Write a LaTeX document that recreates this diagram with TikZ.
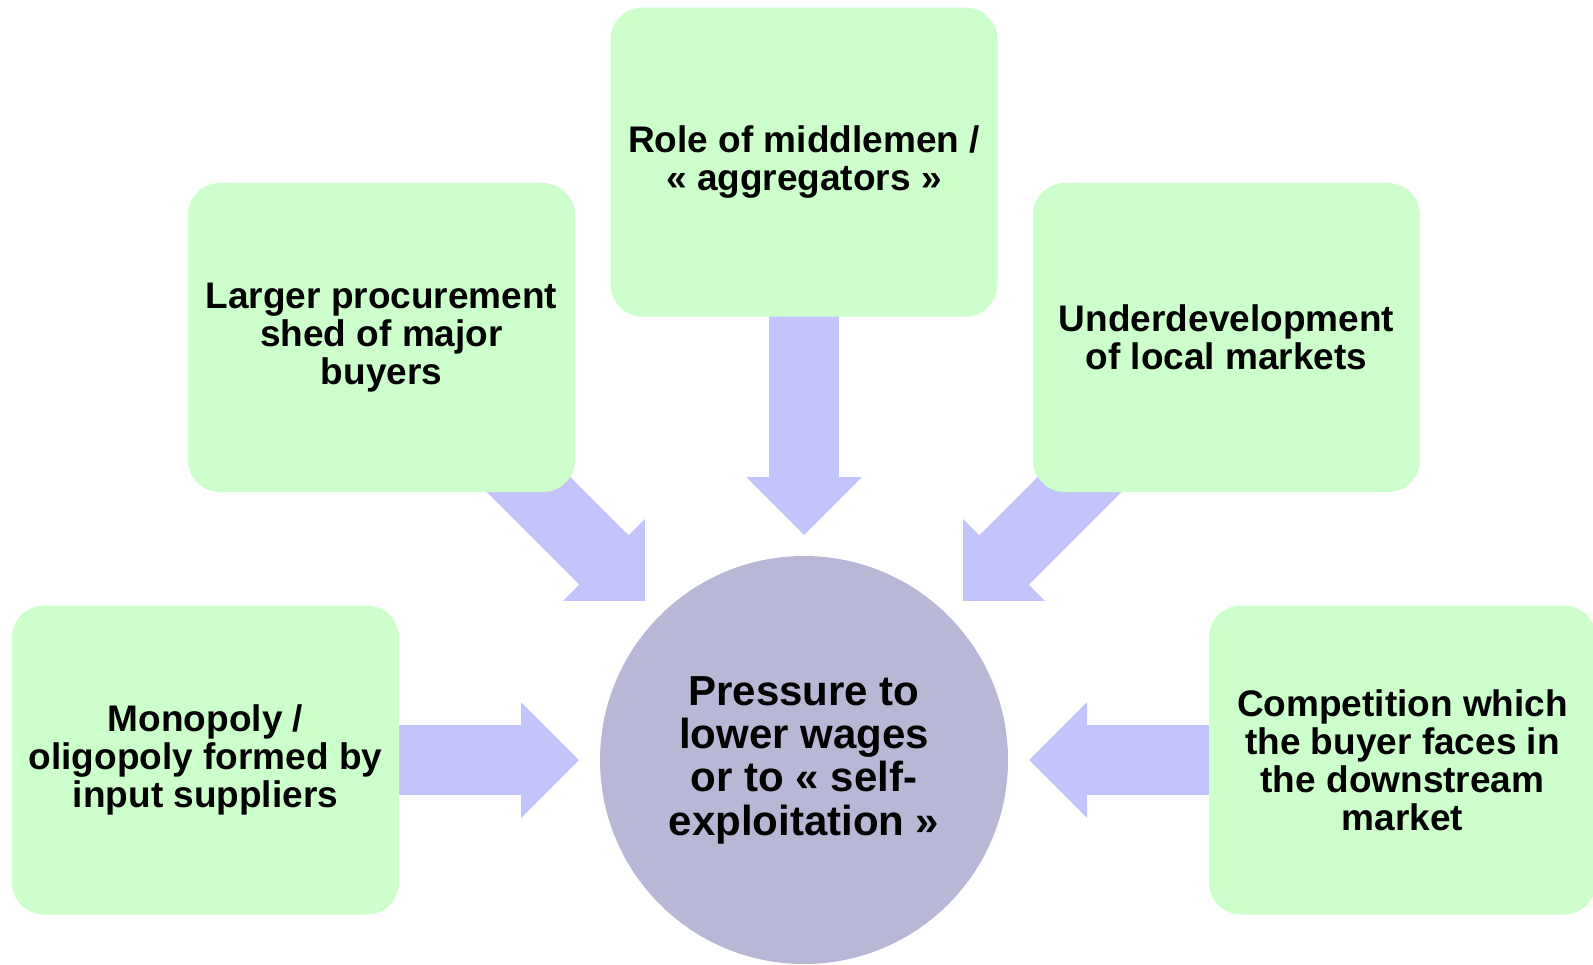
\documentclass[tikz,border=0pt]{standalone}
\usepackage{fontspec}
\setmainfont{Liberation Sans}
\usetikzlibrary{arrows.meta,backgrounds}
\definecolor{boxgreen}{RGB}{204,255,204}
\definecolor{arrowblue}{RGB}{196,196,252}
\definecolor{circlegray}{RGB}{184,184,214}

\begin{document}
\begin{tikzpicture}[x=0.5pt, y=-0.5pt,
    factor/.style={rectangle, rounded corners=16pt, fill=boxgreen, minimum width=193.5pt, minimum height=154.5pt,
        align=center, font=\fontsize{18.5}{19}\selectfont\bfseries},
    shaft/.style={draw=arrowblue, line width=35pt, shorten >=130pt},
    arrowhead/.style={draw=arrowblue, line width=0.2pt, shorten >=112.5pt,
        -{Triangle[length=29pt, width=58pt, line width=0pt]}}]
    % 画布范围：1593 x 964
    \useasboundingbox (0,0) rectangle (1593,964);
    % 中心圆
    \node[circle, fill=circlegray, minimum size=204pt, align=center,
        font=\fontsize{21}{21.7}\selectfont\bfseries] (c) at (804,760)
        {Pressure to\\lower wages\\or to « self-\\exploitation »};
    % 五个因素
    \node[factor] (top) at (804,162) {Role of middlemen /\\« aggregators »};
    \node[factor] (lt) at (381.5,337.5) {Larger procurement\\shed of major\\buyers};
    \node[factor] (rt) at (1226.5,337.5) {Underdevelopment\\of local markets};
    \node[factor] (lb) at (205.5,760) {Monopoly /\\oligopoly formed by\\input suppliers};
    \node[factor] (rb) at (1402.5,760) {Competition which\\the buyer faces in\\the downstream\\market};
    % 箭头（放在底层）
    \begin{scope}[on background layer]
        \foreach \n in {top,lt,rt,lb,rb} {
            \draw[shaft] (\n.center) -- (c.center);
            \draw[arrowhead] (\n.center) -- (c.center);
        }
    \end{scope}
\end{tikzpicture}
\end{document}
